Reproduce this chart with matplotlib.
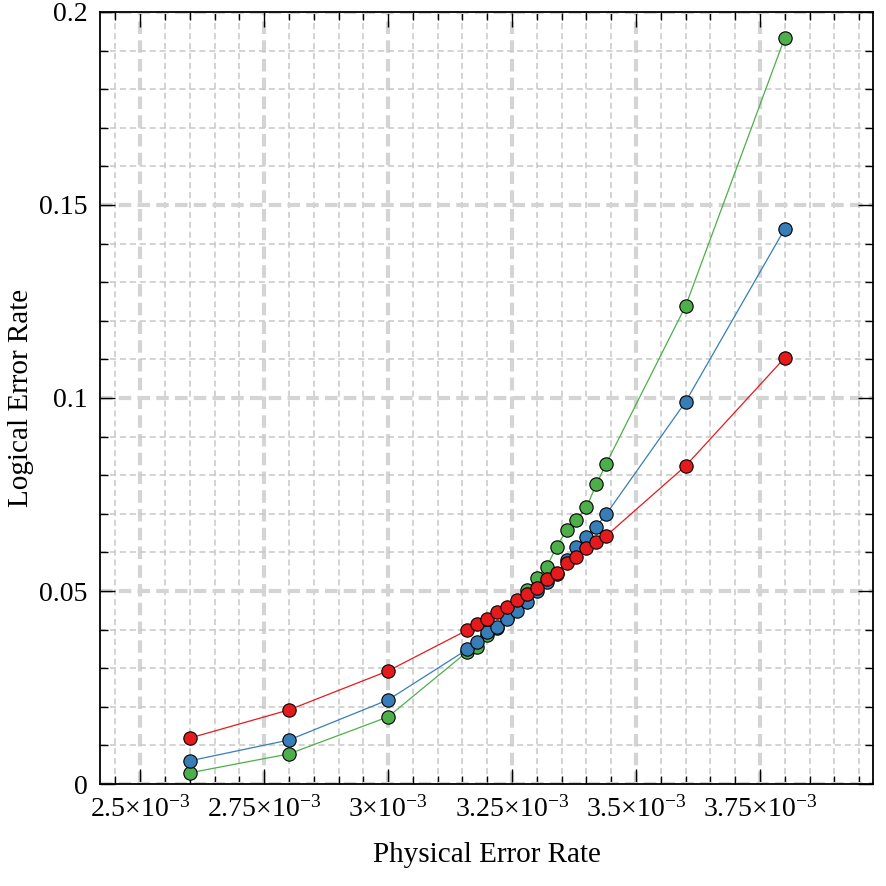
import numpy as np
import matplotlib
matplotlib.use("Agg")
from matplotlib import pyplot as plt
from matplotlib.ticker import MultipleLocator, FixedLocator, FixedFormatter

# physical error rate (x 1e-3)
p = np.array([2.6, 2.8, 3.0, 3.16, 3.18, 3.20, 3.22, 3.24, 3.26, 3.28, 3.30,
              3.32, 3.34, 3.36, 3.38, 3.40, 3.42, 3.44, 3.6, 3.8]) * 1e-3

green = [0.0029, 0.0078, 0.0174, 0.0343, 0.0354, 0.0385, 0.0405, 0.0430, 0.0468,
         0.0503, 0.0533, 0.0563, 0.0615, 0.0658, 0.0684, 0.0717, 0.0776, 0.0830,
         0.1238, 0.1933]
blue = [0.0060, 0.0114, 0.0218, 0.0349, 0.0369, 0.0393, 0.0408, 0.0427, 0.0449,
        0.0472, 0.0501, 0.0524, 0.0544, 0.0580, 0.0615, 0.0641, 0.0667, 0.0699,
        0.0990, 0.1438]
red = [0.0119, 0.0192, 0.0293, 0.0399, 0.0414, 0.0427, 0.0445, 0.0458, 0.0477,
       0.0491, 0.0507, 0.0530, 0.0547, 0.0572, 0.0589, 0.0611, 0.0628, 0.0643,
       0.0824, 0.1104]

xticks = [2.5e-3, 2.75e-3, 3e-3, 3.25e-3, 3.5e-3, 3.75e-3]
xlabels = ['2.5×10$^{-3}$', '2.75×10$^{-3}$', '3×10$^{-3}$',
           '3.25×10$^{-3}$', '3.5×10$^{-3}$', '3.75×10$^{-3}$']
yticks = [0, 0.05, 0.1, 0.15, 0.2]
ylabels = ['0', '0.05', '0.1', '0.15', '0.2']

plt.rcParams['font.family'] = ['Liberation Serif', 'DejaVu Serif']
plt.rcParams['mathtext.fontset'] = 'custom'
plt.rcParams['mathtext.rm'] = 'Liberation Serif'
plt.rcParams['mathtext.it'] = 'Liberation Serif:italic'
plt.rcParams['mathtext.default'] = 'regular'

fig = plt.figure(figsize=(8.86, 8.86), dpi=100)
ax = fig.add_axes([0.1129, 0.1151, 0.8724, 0.8714])

for ys, col in [(green, '#4DAF4A'), (blue, '#377EB8'), (red, '#E41A1C')]:
    ax.plot(p, ys, '-', color=col, lw=0.9, marker='o', ms=9.6,
            mfc=col, mec='black', mew=0.8, zorder=3)

ax.set_xlim(2.419e-3, 3.978e-3)
ax.set_ylim(0, 0.2)

ax.xaxis.set_major_locator(FixedLocator(xticks))
ax.xaxis.set_major_formatter(FixedFormatter(xlabels))
ax.xaxis.set_minor_locator(MultipleLocator(0.05e-3))
ax.yaxis.set_major_locator(FixedLocator(yticks))
ax.yaxis.set_major_formatter(FixedFormatter(ylabels))
ax.yaxis.set_minor_locator(MultipleLocator(0.01))

ax.set_axisbelow(True)
ax.grid(which='major', color='#d4d4d4', lw=3, ls=(0, (3, 1.5)))
ax.grid(which='minor', color='#c8c8c8', lw=1.1, ls=(0, (4, 2.5)))

ax.tick_params(which='both', direction='in', top=True, right=True,
               labelsize=20, width=1, color='black')
ax.tick_params(which='major', length=11, pad=9)
ax.tick_params(which='minor', length=6)
for s in ax.spines.values():
    s.set_linewidth(1.3)

ax.set_xlabel('Physical Error Rate', fontsize=21, labelpad=14)
ax.set_ylabel('Logical Error Rate', fontsize=21)
ax.yaxis.set_label_coords(-0.085, 0.5)

fig.savefig('out.png', dpi=100)
